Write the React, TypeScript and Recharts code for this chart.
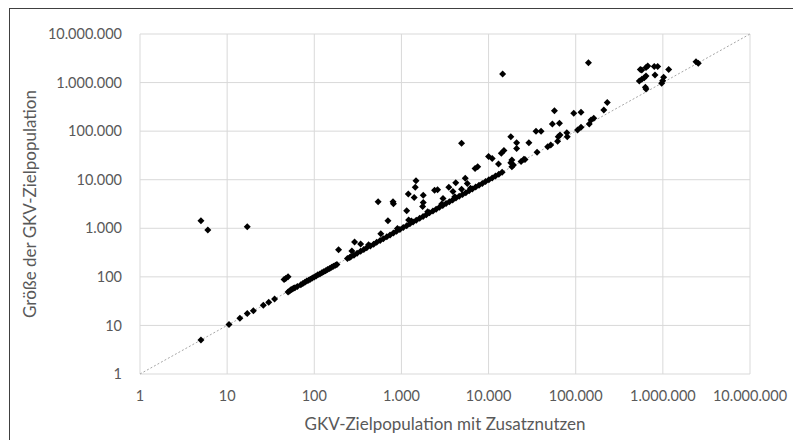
import { ScatterChart, Scatter, XAxis, YAxis, CartesianGrid, ReferenceLine } from 'recharts';

const achsenTicks = [1, 10, 100, 1000, 10000, 100000, 1000000, 10000000];

// [GKV-Zielpopulation mit Zusatznutzen, Größe der GKV-Zielpopulation]
const kleineWerte: [number, number][] = [
  [5, 1430], [6, 920], [17, 1080],
  [5, 5], [10.5, 10.5], [14, 14], [17, 17.5], [20, 20], [26, 26], [30, 30], [35, 35],
  [45, 88], [47, 93], [50, 100],
  [50, 49], [52, 51], [54, 54], [56, 56], [58, 58], [60, 60], [64, 63],
  [70, 69], [74, 73], [78, 77], [82, 82], [86, 85], [90, 89], [95, 95], [100, 99],
  [105, 104], [110, 110], [116, 115], [122, 121], [128, 127], [135, 134], [142, 141],
  [150, 149], [158, 157], [166, 165], [175, 173], [182, 180],
  [190, 360],
];

const mittlereWerte: [number, number][] = [
  [240, 238], [255, 250], [262, 260], [285, 280], [310, 305], [340, 335], [370, 365],
  [400, 396], [440, 432], [480, 470], [520, 515], [570, 560], [620, 612], [680, 670],
  [740, 730], [810, 800], [880, 870], [960, 945], [1050, 1040], [1150, 1130], [1250, 1240],
  [1360, 1340], [1480, 1460], [1620, 1600], [1770, 1750], [1930, 1900], [2100, 2080],
  [2300, 2270], [2500, 2480], [2730, 2700], [2980, 2950], [3250, 3220], [3550, 3500],
  [3870, 3830], [4220, 4180], [4600, 4550], [5020, 4980], [5480, 5420], [5980, 5900],
  [6520, 6450], [7110, 7050], [7760, 7700], [8470, 8400], [9240, 9150], [10080, 10000],
  [11000, 10900], [12000, 11900], [13100, 13000], [14300, 14200],
  [420, 460], [900, 990], [1300, 1420], [2000, 2180], [2900, 3150], [4100, 4450], [6200, 6700],
  [270, 340], [290, 520], [340, 475], [580, 770], [540, 3500], [700, 1430], [800, 3500],
  [810, 3200], [1150, 2300], [1200, 5100], [1210, 1480], [1400, 4300], [1440, 7000],
  [1470, 9500], [1750, 2800], [1780, 3400], [1780, 4800],
  [2400, 6100], [2600, 6200], [3000, 4100], [3500, 7000], [3900, 5700], [4200, 8700],
  [4900, 6400], [4900, 56000], [5400, 10700], [5700, 8400], [7000, 17000], [7500, 18500],
  [10000, 30000], [11000, 27500], [13000, 21000], [14000, 35000], [15000, 40000],
  [14500, 1500000],
];

const grosseWerte: [number, number][] = [
  [18000, 77000], [18000, 22300], [18500, 25500], [18500, 18500], [19300, 20000],
  [21000, 58000], [21000, 44000], [23600, 23600], [25400, 26500], [26200, 26200],
  [29000, 58000], [35000, 100000], [36000, 36700], [40000, 100000], [47700, 47700],
  [51700, 51700], [54000, 140000], [57000, 264000], [62000, 62000], [63000, 77000],
  [65000, 145000], [66000, 83000], [79000, 93000], [80000, 77000], [95000, 233000],
  [105000, 105000], [115000, 120000], [115000, 244000], [143000, 140000], [150000, 170000],
  [161000, 184000], [210000, 273000], [230000, 390000], [140000, 2570000],
  [551000, 1850000], [573000, 1815000], [641000, 2050000], [671000, 2190000],
  [797000, 2150000], [873000, 2150000], [813000, 1430000], [1167000, 1850000],
  [1021000, 1285000], [995000, 1094000], [970000, 966000], [537000, 1080000],
  [573000, 1167000], [612000, 1259000], [641000, 1365000], [630000, 800000], [641000, 740000],
  [2400000, 2690000], [2550000, 2500000],
];

const punkte = [...kleineWerte, ...mittlereWerte, ...grosseWerte].map(([x, y]) => ({ x, y }));

const textFarbe = '#595959';
const schrift = 'Lato, "Open Sans", sans-serif';

function formatDe(v: number) {
  return String(v).replace(/\B(?=(\d{3})+(?!\d))/g, '.');
}

function Raute(props: any) {
  const { cx, cy } = props;
  const r = 3.5;
  return <path d={`M${cx},${cy - r}L${cx + r},${cy}L${cx},${cy + r}L${cx - r},${cy}Z`} fill="#000" />;
}

export default function App() {
  return (
    <div
      style={{
        width: 793,
        height: 432,
        marginLeft: 1,
        borderLeft: '1px solid #404040',
        borderTop: '1px solid #404040',
        background: '#fff',
      }}
    >
      <ScatterChart width={792} height={431} margin={{ top: 25, right: 52, bottom: 6, left: 0 }}>
        <CartesianGrid stroke="#d9d9d9" />
        <XAxis
          type="number"
          dataKey="x"
          scale="log"
          domain={[1, 10000000]}
          ticks={achsenTicks}
          interval={0}
          allowDataOverflow
          tickFormatter={formatDe}
          axisLine={false}
          tickLine={false}
          tickSize={0}
          tickMargin={17}
          height={60}
          tick={{ fill: textFarbe, fontSize: 14.5, fontFamily: schrift }}
          label={{
            value: 'GKV-Zielpopulation mit Zusatznutzen',
            position: 'insideBottom',
            offset: 4,
            fill: textFarbe,
            fontSize: 17,
            fontFamily: schrift,
          }}
        />
        <YAxis
          type="number"
          dataKey="y"
          scale="log"
          domain={[1, 10000000]}
          ticks={achsenTicks}
          interval={0}
          allowDataOverflow
          tickFormatter={formatDe}
          axisLine={false}
          tickLine={false}
          tickSize={0}
          tickMargin={18}
          width={130}
          tick={{ fill: textFarbe, fontSize: 14.5, fontFamily: schrift }}
          label={{
            value: 'Größe der GKV-Zielpopulation',
            angle: -90,
            position: 'insideLeft',
            offset: 20,
            fill: textFarbe,
            fontSize: 17,
            fontFamily: schrift,
            style: { textAnchor: 'middle' },
          }}
        />
        <ReferenceLine
          segment={[{ x: 1, y: 1 }, { x: 10000000, y: 10000000 }]}
          stroke="#a6a6a6"
          strokeDasharray="2 2"
          strokeWidth={1}
        />
        <Scatter data={punkte} shape={<Raute />} isAnimationActive={false} />
      </ScatterChart>
    </div>
  );
}
